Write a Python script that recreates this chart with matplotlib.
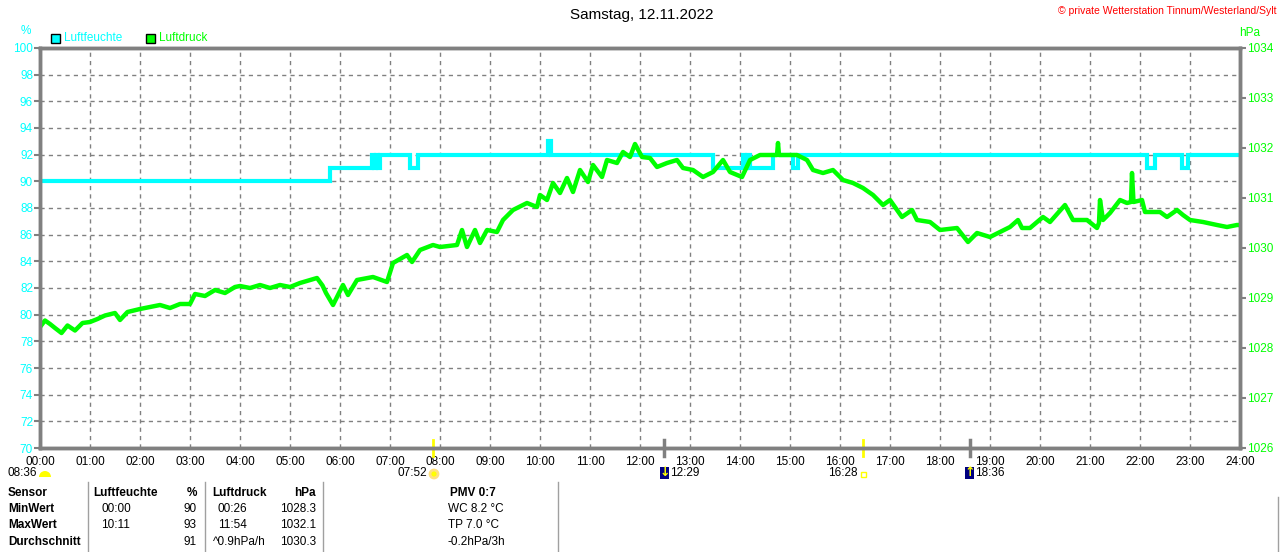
import matplotlib
matplotlib.use("Agg")
import matplotlib.pyplot as plt
from matplotlib.patches import Rectangle, Wedge, Circle
from matplotlib.transforms import blended_transform_factory, IdentityTransform

plt.rcParams['font.family'] = ['Liberation Sans', 'DejaVu Sans']

W, H = 1280, 552
CYAN = '#00FFFF'
GREEN = '#00FF00'
GRID = '#808080'

# Luftfeuchte (%) - Stufenwerte, Zeit in Stunden
feuchte_t = [0.0, 5.80, 6.64, 6.68, 6.72, 6.76, 6.80, 6.84, 7.40, 7.56,
             10.16, 10.22, 13.46, 14.06, 14.10, 14.14, 14.20, 14.66,
             15.06, 15.16, 22.14, 22.30, 22.84, 22.96, 24.0]
feuchte_v = [90, 91, 92, 91, 92, 91, 92, 92, 91, 92,
             93, 92, 91, 92, 91, 92, 91, 92,
             91, 92, 91, 92, 91, 92, 92]

# Luftdruck (hPa)
druck_t = [0.00, 0.10, 0.20, 0.30, 0.43, 0.55, 0.70, 0.85, 1.00, 1.15,
           1.30, 1.50, 1.60, 1.75, 2.00, 2.20, 2.40, 2.60, 2.80, 3.00,
           3.10, 3.30, 3.50, 3.70, 3.90, 4.00, 4.20, 4.40, 4.60, 4.80,
           5.00, 5.20, 5.40, 5.54, 5.65, 5.72, 5.86, 6.06, 6.16, 6.34,
           6.66, 6.94, 7.06, 7.34, 7.44, 7.60, 7.86, 8.00, 8.34, 8.44,
           8.54, 8.70, 8.80, 8.94, 9.14, 9.26, 9.46, 9.74, 9.94, 10.00,
           10.14, 10.26, 10.40, 10.54, 10.66, 10.80, 10.96, 11.06, 11.24, 11.34,
           11.54, 11.66, 11.80, 11.90, 12.04, 12.20, 12.34, 12.54, 12.74, 12.86,
           13.06, 13.26, 13.46, 13.66, 13.80, 14.04, 14.20, 14.40, 14.60, 14.74,
           14.76, 14.78, 15.14, 15.34, 15.46, 15.66, 15.86, 16.06, 16.26, 16.46,
           16.66, 16.86, 17.00, 17.14, 17.24, 17.44, 17.54, 17.80, 18.00, 18.34,
           18.56, 18.74, 19.00, 19.40, 19.56, 19.64, 19.80, 20.06, 20.20, 20.50,
           20.66, 20.94, 21.14, 21.18, 21.20, 21.26, 21.40, 21.60, 21.74, 21.82,
           21.84, 21.87, 22.04, 22.10, 22.40, 22.54, 22.74, 22.86, 23.00, 23.26,
           23.54, 23.74, 23.94, 24.00]
druck_v = [1028.42, 1028.55, 1028.48, 1028.40, 1028.30, 1028.45, 1028.35, 1028.50, 1028.52, 1028.58,
           1028.65, 1028.70, 1028.56, 1028.72, 1028.78, 1028.82, 1028.86, 1028.80, 1028.88, 1028.88,
           1029.08, 1029.04, 1029.16, 1029.10, 1029.22, 1029.24, 1029.20, 1029.26, 1029.20, 1029.26,
           1029.22, 1029.30, 1029.36, 1029.40, 1029.25, 1029.10, 1028.86, 1029.26, 1029.06, 1029.36,
           1029.42, 1029.32, 1029.70, 1029.86, 1029.72, 1029.96, 1030.06, 1030.02, 1030.06, 1030.36,
           1030.02, 1030.36, 1030.10, 1030.36, 1030.32, 1030.56, 1030.76, 1030.90, 1030.82, 1031.06,
           1030.96, 1031.30, 1031.10, 1031.40, 1031.12, 1031.56, 1031.32, 1031.66, 1031.42, 1031.76,
           1031.70, 1031.92, 1031.82, 1032.08, 1031.82, 1031.80, 1031.62, 1031.70, 1031.76, 1031.60,
           1031.56, 1031.42, 1031.52, 1031.76, 1031.52, 1031.42, 1031.76, 1031.86, 1031.86, 1031.86,
           1032.10, 1031.86, 1031.86, 1031.76, 1031.56, 1031.50, 1031.56, 1031.36, 1031.30, 1031.20,
           1031.06, 1030.86, 1030.96, 1030.76, 1030.62, 1030.76, 1030.56, 1030.52, 1030.36, 1030.40,
           1030.12, 1030.30, 1030.22, 1030.42, 1030.56, 1030.40, 1030.40, 1030.62, 1030.52, 1030.86,
           1030.56, 1030.56, 1030.40, 1030.50, 1030.96, 1030.56, 1030.70, 1030.96, 1030.90, 1030.92,
           1031.50, 1030.92, 1030.96, 1030.72, 1030.72, 1030.62, 1030.76, 1030.66, 1030.56, 1030.52,
           1030.46, 1030.42, 1030.46, 1030.46]

stunden = list(range(25))
stunden_labels = ['%02d:00' % h for h in stunden]
feuchte_ticks = list(range(70, 101, 2))
druck_ticks = list(range(1026, 1035))

# Sonne / Mond Ereignisse
sonne_t = [7 + 52 / 60, 16 + 28 / 60]
mond_t = [12 + 29 / 60, 18 + 36 / 60]

tabelle = [
    ['MinWert', '00:00', '90', '00:26', '1028.3', 'WC 8.2 °C'],
    ['MaxWert', '10:11', '93', '11:54', '1032.1', 'TP 7.0 °C'],
    ['Durchschnitt', '', '91', '^0.9hPa/h', '1030.3', '-0.2hPa/3h'],
]


def fx(x):
    return x / W


def fy(y):
    return 1 - y / H


def ftext(x, y, s, **kw):
    kw.setdefault('va', 'center')
    kw.setdefault('fontsize', 8.5)
    fig.text(fx(x), fy(y), s, **kw)


def pix_patch(p):
    # Patch in Pixelkoordinaten (Ursprung oben links umgerechnet)
    p.set_transform(IdentityTransform())
    fig.patches.append(p)


fig = plt.figure(figsize=(W / 100, H / 100), dpi=100)
ax = fig.add_axes([fx(40), fy(448), fx(1240) - fx(40), fy(48) - fy(448)])
ax2 = ax.twinx()

ax.set_xlim(0, 24)
ax.set_ylim(70, 100)
ax2.set_ylim(1026, 1034)

ax.step(feuchte_t, feuchte_v, where='post', color=CYAN, lw=3, solid_joinstyle='miter')
ax2.plot(druck_t, druck_v, color=GREEN, lw=3.2)

ax.set_xticks(stunden)
ax.set_xticklabels(stunden_labels)
ax.set_yticks(feuchte_ticks)
ax2.set_yticks(druck_ticks)
ax.grid(True, color=GRID, linestyle=(0, (3, 3)), lw=1)
ax.set_axisbelow(True)

for a in (ax, ax2):
    for s in a.spines.values():
        s.set_color(GRID)
        s.set_linewidth(2.5)
ax.tick_params(axis='x', colors=GRID, labelcolor='black', length=0, pad=6, labelsize=8.5)
ax.tick_params(axis='y', colors=GRID, labelcolor=CYAN, length=4, width=1.5, pad=1, labelsize=8.5)
ax2.tick_params(axis='y', colors=GRID, labelcolor=GREEN, length=4, width=1.5, pad=1, labelsize=8.5)

# Markierungen fuer Sonne und Mond an der Zeitachse
trans = blended_transform_factory(ax.transData, ax.transAxes)
for t in sonne_t:
    ax.plot([t, t], [-0.02, 0.02], color='#FFFF00', lw=2, transform=trans, clip_on=False)
for t in mond_t:
    ax.plot([t, t], [-0.02, 0.02], color=GRID, lw=2.5, transform=trans, clip_on=False)

# Titel und Beschriftungen
ftext(642, 15, 'Samstag, 12.11.2022', ha='center', fontsize=11)
ftext(1276, 11, '© private Wetterstation Tinnum/Westerland/Sylt', ha='right',
      color='red', fontsize=7.5)
ftext(26, 31, '%', ha='center', color=CYAN)
ftext(1250, 33, 'hPa', ha='center', color=GREEN)

fig.patches.append(Rectangle((fx(51), fy(43)), 9 / W, 9 / H, transform=fig.transFigure,
                             facecolor=CYAN, edgecolor='black', lw=1))
ftext(64, 38, 'Luftfeuchte', color=CYAN)
fig.patches.append(Rectangle((fx(146), fy(43)), 9 / W, 9 / H, transform=fig.transFigure,
                             facecolor=GREEN, edgecolor='black', lw=1))
ftext(159, 38, 'Luftdruck', color=GREEN)

# Auf- und Untergangszeiten
ftext(37, 473, '08:36', ha='right')
pix_patch(Wedge((45, H - 477), 6, 0, 180, facecolor='#FFFF00', edgecolor='none'))
ftext(427, 473, '07:52', ha='right')
pix_patch(Circle((434, H - 474), 4, facecolor='#FFFF00', edgecolor='#FFE080', lw=2))
ftext(858, 473, '16:28', ha='right')
pix_patch(Rectangle((861, H - 477), 5, 5, facecolor='none', edgecolor='#FFFF00', lw=1))
for x0, arrow, lab in [(660, '↓', '12:29'), (965, '↑', '18:36')]:
    pix_patch(Rectangle((x0, H - 479), 9, 12, facecolor='#000080', edgecolor='none'))
    ftext(x0 + 4.5, 472, arrow, ha='center', color='#FFFF00', fontsize=9,
          fontweight='bold', family='DejaVu Sans')
    ftext(x0 + 10, 473, lab)

# Tabelle
for xl, y0 in [(88, 482), (205, 482), (323, 482), (558, 482), (1278, 497)]:
    fig.add_artist(plt.Line2D([fx(xl), fx(xl)], [fy(y0), fy(552)], transform=fig.transFigure,
                              color='#A0A0A0', lw=1))

ftext(8, 493, 'Sensor', fontweight='bold')
ftext(93, 493, 'Luftfeuchte', fontweight='bold')
ftext(197, 493, '%', ha='right', fontweight='bold')
ftext(212, 493, 'Luftdruck', fontweight='bold')
ftext(316, 493, 'hPa', ha='right', fontweight='bold')
ftext(473, 493, 'PMV 0:7', ha='center', fontweight='bold')

for i, row in enumerate(tabelle):
    y = 509 + i * 16.5
    ftext(8, y, row[0], fontweight='bold')
    ftext(101, y, row[1])
    ftext(197, y, row[2], ha='right')
    ftext(213 if row[3].startswith('^') else 218, y, row[3])
    ftext(316, y, row[4], ha='right')
    ftext(448, y, row[5])

fig.savefig('out.png', dpi=100, facecolor='white')
